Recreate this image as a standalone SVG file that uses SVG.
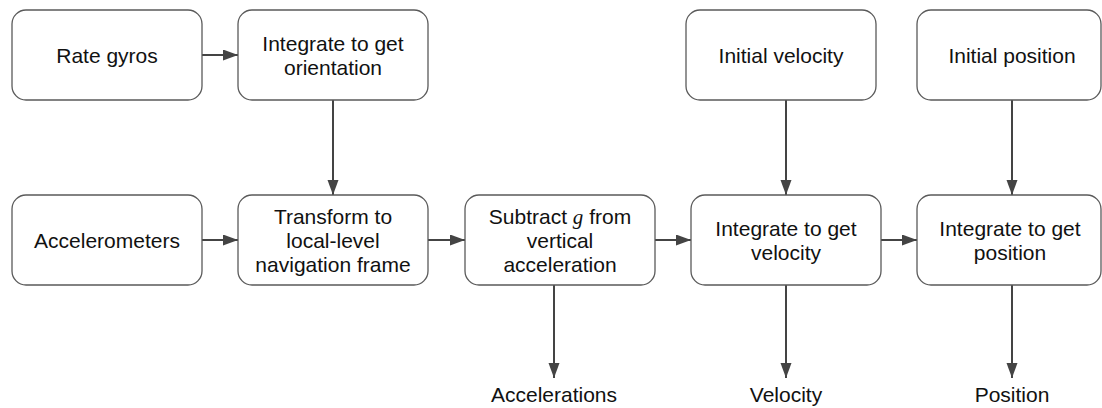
<svg xmlns="http://www.w3.org/2000/svg" width="1102" height="408" viewBox="0 0 1102 408">
  <style>
    .box { fill: #ffffff; stroke: #5a5a5a; stroke-width: 1.3; }
    .lbl { font-family: "Liberation Sans", Arial, sans-serif; font-size: 21px; fill: #111111; text-anchor: middle; }
    .var { font-family: "Liberation Serif", "Times New Roman", serif; font-style: italic; }
    .wire { fill: none; stroke: #444444; stroke-width: 2; marker-end: url(#head); }
  </style>
  <defs>
    <marker id="head" markerUnits="userSpaceOnUse" markerWidth="16" markerHeight="12" refX="15" refY="5.5" orient="auto">
      <path d="M0,0 L15,5.5 L0,11 Z" fill="#444444"/>
    </marker>
  </defs>

  <rect width="1102" height="408" fill="#ffffff"/>

  <g id="connectors">
    <path class="wire" d="M202,55 H238"/>
    <path class="wire" d="M202,240 H238"/>
    <path class="wire" d="M428,240 H465"/>
    <path class="wire" d="M655,240 H691"/>
    <path class="wire" d="M881,240 H917"/>
    <path class="wire" d="M333,100 V195"/>
    <path class="wire" d="M786,100 V195"/>
    <path class="wire" d="M1012,100 V195"/>
    <path class="wire" d="M554,285 V378"/>
    <path class="wire" d="M786,285 V378"/>
    <path class="wire" d="M1012,285 V378"/>
  </g>

  <g id="rate-gyros">
    <rect class="box" x="12" y="10" width="190" height="90" rx="14"/>
    <text class="lbl" x="107" y="63">Rate gyros</text>
  </g>
  <g id="integrate-orientation">
    <rect class="box" x="238" y="10" width="190" height="90" rx="14"/>
    <text class="lbl" x="333" y="51">Integrate to get</text>
    <text class="lbl" x="333" y="75">orientation</text>
  </g>
  <g id="initial-velocity">
    <rect class="box" x="686" y="10" width="190" height="90" rx="14"/>
    <text class="lbl" x="781" y="63">Initial velocity</text>
  </g>
  <g id="initial-position">
    <rect class="box" x="917" y="10" width="184" height="90" rx="14"/>
    <text class="lbl" x="1012" y="63">Initial position</text>
  </g>

  <g id="accelerometers">
    <rect class="box" x="12" y="195" width="190" height="90" rx="14"/>
    <text class="lbl" x="107" y="248">Accelerometers</text>
  </g>
  <g id="transform">
    <rect class="box" x="238" y="195" width="190" height="90" rx="14"/>
    <text class="lbl" x="333" y="224">Transform to</text>
    <text class="lbl" x="333" y="248">local-level</text>
    <text class="lbl" x="333" y="272">navigation frame</text>
  </g>
  <g id="subtract-g">
    <rect class="box" x="465" y="195" width="190" height="90" rx="14"/>
    <text class="lbl" x="560" y="224">Subtract <tspan class="var">g</tspan> from</text>
    <text class="lbl" x="560" y="248">vertical</text>
    <text class="lbl" x="560" y="272">acceleration</text>
  </g>
  <g id="integrate-velocity">
    <rect class="box" x="691" y="195" width="190" height="90" rx="14"/>
    <text class="lbl" x="786" y="236">Integrate to get</text>
    <text class="lbl" x="786" y="260">velocity</text>
  </g>
  <g id="integrate-position">
    <rect class="box" x="917" y="195" width="184" height="90" rx="14"/>
    <text class="lbl" x="1010" y="236">Integrate to get</text>
    <text class="lbl" x="1010" y="260">position</text>
  </g>

  <g id="out-accelerations">
    <text class="lbl" x="554" y="402">Accelerations</text>
  </g>
  <g id="out-velocity">
    <text class="lbl" x="786" y="402">Velocity</text>
  </g>
  <g id="out-position">
    <text class="lbl" x="1012" y="402">Position</text>
  </g>
</svg>
